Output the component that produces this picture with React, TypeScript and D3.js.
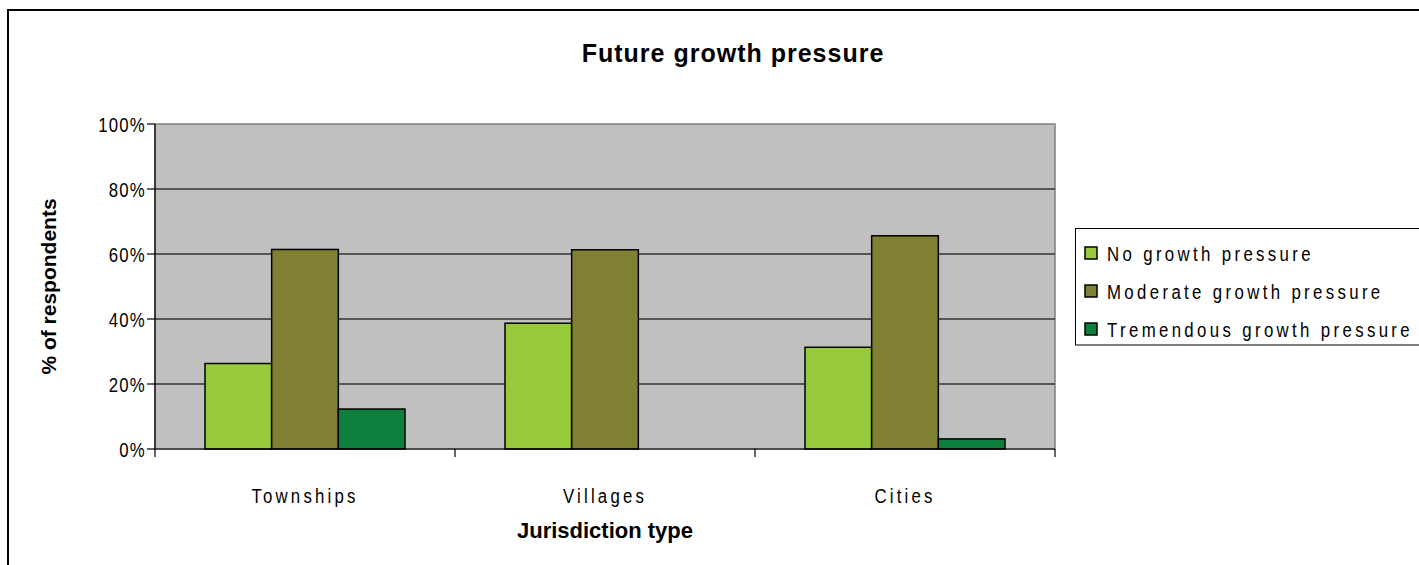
import React from "react";
import * as d3 from "d3";

const categories = ["Townships", "Villages", "Cities"];
const seriesNames = ["No growth pressure", "Moderate growth pressure", "Tremendous growth pressure"];
const noGrowth = [0.263, 0.387, 0.313];
const moderateGrowth = [0.614, 0.613, 0.656];
const tremendousGrowth = [0.123, 0, 0.031];
const yTicks = [0, 0.2, 0.4, 0.6, 0.8, 1.0];
const colors = ["#99C93C", "#808033", "#0E803E"];

const W = 1419;
const H = 565;
const plot = { left: 155, right: 1055, top: 124, bottom: 449 };

function NText(props: {
  x: number;
  y: number;
  anchor?: string;
  size: number;
  ls?: number;
  sx?: number;
  bold?: boolean;
  rotate?: number;
  children: React.ReactNode;
}) {
  const { x, y, anchor = "start", size, ls = 0, sx = 1, bold = false, rotate = 0 } = props;
  return (
    <text
      transform={`translate(${x},${y}) rotate(${rotate}) scale(${sx},1)`}
      textAnchor={anchor}
      fontSize={size}
      letterSpacing={ls}
      fontWeight={bold ? "bold" : "normal"}
    >
      {props.children}
    </text>
  );
}

export default function App() {
  const series = [noGrowth, moderateGrowth, tremendousGrowth];
  const x0 = d3
    .scaleBand<string>()
    .domain(categories)
    .range([plot.left, plot.right])
    .paddingInner(1 / 3)
    .paddingOuter(1 / 6);
  const x1 = d3
    .scaleBand<number>()
    .domain(d3.range(series.length))
    .range([0, x0.bandwidth()])
    .padding(0);
  const y = d3.scaleLinear().domain([0, 1]).range([plot.bottom, plot.top]);
  const fmt = d3.format(".0%");
  const step = x0.step();
  const boundaries = d3.range(categories.length + 1).map((i) => plot.left + i * step);
  const font = "Arial, 'Liberation Sans', sans-serif";

  return (
    <svg
      width={W}
      height={H}
      style={{ position: "absolute", left: 0, top: 0, background: "#fff" }}
      fontFamily={font}
    >
      <rect x={8} y={10} width={1600} height={700} fill="#fff" stroke="#000" strokeWidth={2} />
      <NText x={733} y={62} anchor="middle" size={25} ls={1} bold>
        Future growth pressure
      </NText>
      {/* plot area */}
      <rect
        x={plot.left}
        y={plot.top}
        width={plot.right - plot.left}
        height={plot.bottom - plot.top}
        fill="#C0C0C0"
        stroke="#808080"
        strokeWidth={1.5}
      />
      {yTicks
        .filter((t) => t > 0 && t < 1)
        .map((t) => (
          <line key={t} x1={plot.left} x2={plot.right} y1={y(t)} y2={y(t)} stroke="#333" strokeWidth={1.5} />
        ))}
      {categories.map((c, ci) =>
        series.map((s, si) => (
          <rect
            key={c + si}
            x={(x0(c) as number) + (x1(si) as number)}
            y={y(s[ci])}
            width={x1.bandwidth()}
            height={plot.bottom - y(s[ci])}
            fill={colors[si]}
            stroke="#000"
            strokeWidth={1.5}
            style={{ display: s[ci] > 0 ? undefined : "none" }}
          />
        ))
      )}
      {/* axes */}
      <line x1={plot.left} x2={plot.left} y1={plot.top} y2={plot.bottom} stroke="#000" strokeWidth={1.2} />
      <line x1={plot.left} x2={plot.right} y1={plot.bottom} y2={plot.bottom} stroke="#000" strokeWidth={1.2} />
      {yTicks.map((t) => (
        <g key={"yt" + t}>
          <line x1={plot.left - 8} x2={plot.left} y1={y(t)} y2={y(t)} stroke="#000" strokeWidth={1.2} />
          <NText x={plot.left - 9} y={y(t) + 7.5} anchor="end" size={21} ls={1.5} sx={0.8}>
            {fmt(t)}
          </NText>
        </g>
      ))}
      {boundaries.map((b, i) => (
        <line key={"xt" + i} x1={b} x2={b} y1={plot.bottom} y2={plot.bottom + 8} stroke="#000" strokeWidth={1.2} />
      ))}
      {categories.map((c) => (
        <NText
          key={"xl" + c}
          x={(x0(c) as number) + x0.bandwidth() / 2}
          y={503}
          anchor="middle"
          size={21}
          ls={4}
          sx={0.8}
        >
          {c}
        </NText>
      ))}
      <NText x={(plot.left + plot.right) / 2} y={538} anchor="middle" size={22} bold>
        Jurisdiction type
      </NText>
      <NText x={56} y={(plot.top + plot.bottom) / 2} anchor="middle" size={21} bold rotate={-90}>
        % of respondents
      </NText>
      {/* legend */}
      <rect x={1075.5} y={228.5} width={400} height={116.5} fill="#fff" stroke="#000" strokeWidth={1} />
      {seriesNames.map((n, i) => (
        <g key={n}>
          <rect
            x={1085}
            y={253 + i * 38 - 6}
            width={12}
            height={12}
            fill={colors[i]}
            stroke="#000"
            strokeWidth={1.5}
          />
          <NText x={1107} y={253 + i * 38 + 7.5} size={21} ls={4.2} sx={0.8}>
            {n}
          </NText>
        </g>
      ))}
    </svg>
  );
}
